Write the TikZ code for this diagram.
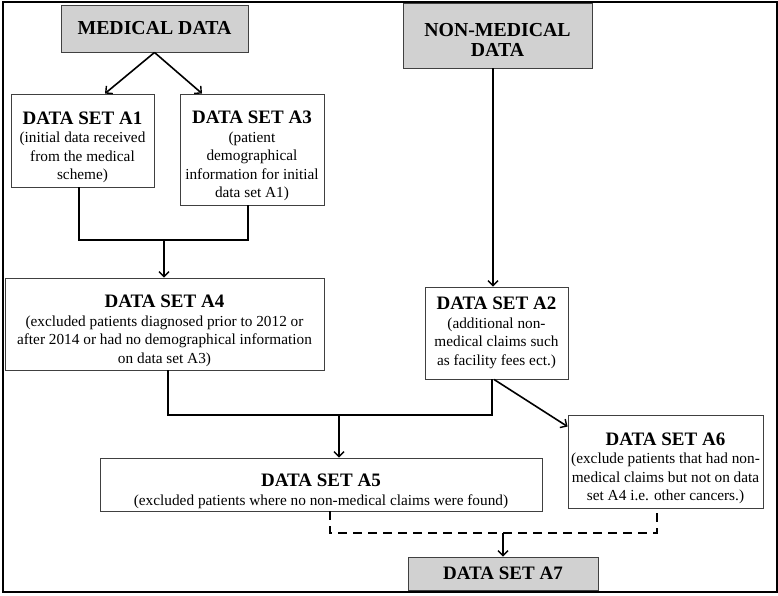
\documentclass[tikz,border=0pt]{standalone}
\usepackage{fontspec}
\setmainfont{Liberation Serif}
\usetikzlibrary{arrows.meta,calc}
\newcommand\ttl[1]{{\fontsize{19}{19}\selectfont\bfseries\rule{0pt}{26pt}#1}}
\newcommand\ttlplain[1]{{\fontsize{19}{19}\selectfont\bfseries #1}}
\begin{document}
\begin{tikzpicture}[x=1pt,y=1pt,
  box/.style={draw=black!75, line width=0.9pt, fill=white, align=center, inner sep=0pt,
    font=\fontsize{15.3}{18.5}\selectfont},
  graybox/.style={draw=black!75, line width=0.9pt, fill=black!18, align=center, inner sep=0pt,
    font=\fontsize{19.8}{20}\selectfont\bfseries},
  frame/.style={draw=black, line width=1.6pt, inner sep=0pt},
  line/.style={line width=1.6pt, line join=miter},
  conn/.style={line width=1.6pt, -{Straight Barb[length=5pt,width=10pt,line width=1.4pt]}},
  dline/.style={line width=1.6pt, dash pattern=on 9pt off 6pt}
]
\useasboundingbox (0,0) rectangle (778,595);
\node[frame, minimum width=774, minimum height=590] (frame) at (390,298) {};

\node[graybox, minimum width=187, minimum height=47] (med) at (154.5,566.5) {MEDICAL DATA};
\node[graybox, minimum width=189, minimum height=65] (nonmed) at (497.5,559.5)
  {\rule{0pt}{22pt}NON-MEDICAL\\DATA};

\node[box, minimum width=143, minimum height=93] (a1) at (82.5,454.5)
  {\ttl{DATA SET A1}\\(initial data received\\from the medical\\scheme)};
\node[box, minimum width=144, minimum height=111] (a3) at (252,445.5)
  {\ttl{DATA SET A3}\\(patient\\demographical\\information for initial\\data set A1)};
\node[box, minimum width=319, minimum height=92] (a4) at (164.5,271)
  {\ttl{DATA SET A4}\\(excluded patients diagnosed prior to 2012 or\\after 2014 or had no demographical information\\on data set A3)};
\node[box, minimum width=143, minimum height=92] (a2) at (496.5,262)
  {\ttlplain{DATA SET A2}\\(additional non-\\medical claims such\\as facility fees ect.)};
\node[box, minimum width=195, minimum height=93] (a6) at (665.5,133.5)
  {\ttl{DATA SET A6}\\(exclude patients that had non-\\medical claims but not on data\\set A4 i.e. other cancers.)};
\node[box, minimum width=442, minimum height=53] (a5) at (321,110.5)
  {\ttl{DATA SET A5}\\(excluded patients where no non-medical claims were found)};
\node[graybox, minimum width=190, minimum height=33, font=\fontsize{19}{19}\selectfont\bfseries] (a7) at (503,21.5) {DATA SET A7};

% connectors
\draw[conn] (med.south) -- ([xshift=22.5]a1.north);
\draw[conn] (med.south) -- ([xshift=-50]a3.north);

\coordinate (a1s) at ([xshift=-3.5]a1.south);
\coordinate (a3s) at ([xshift=-4]a3.south);
\coordinate (j1) at (164,355);
\draw[line] (a1s) |- (j1) -| (a3s);
\draw[conn] (j1) -- (j1 |- a4.north);

\coordinate (a4s) at ([xshift=3.5]a4.south);
\coordinate (a2s) at ([xshift=-4.5]a2.south);
\coordinate (j2) at (339,180);
\draw[line] (a4s) |- (j2) -| (a2s);
\draw[conn] (j2) -- (j2 |- a5.north);

\coordinate (nms) at ([xshift=-4.5]nonmed.south);
\draw[conn] (nms) -- (nms |- a2.north);

\coordinate (a2d) at ([xshift=-2.5]a2.south);
\coordinate (a6in) at ([yshift=-12]a6.north west);
\draw[conn] (a2d) -- (a6in);

\coordinate (a5s) at ([xshift=9]a5.south);
\coordinate (a6s) at ([xshift=-8.5]a6.south);
\coordinate (j3) at (503,62);
\draw[dline] (a5s) |- (j3) -| (a6s);
\draw[conn] (j3) -- (a7.north);
\end{tikzpicture}
\end{document}
